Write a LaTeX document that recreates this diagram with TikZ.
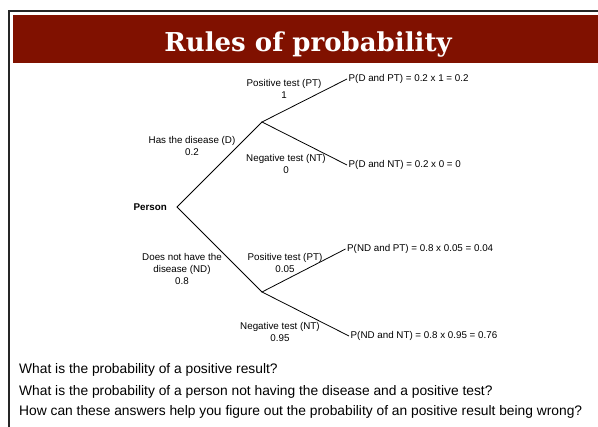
\documentclass[tikz,border=0pt]{standalone}
\usepackage{fontspec}
\setmainfont{Liberation Sans}
\newfontfamily\titlefont{DejaVu Serif}
\definecolor{barred}{RGB}{128,17,0}
\begin{document}
\begin{tikzpicture}[x=1pt,y=-1pt,
  lbl/.style={font=\fontsize{9.8}{12}\selectfont, align=center, inner sep=0pt},
  res/.style={font=\fontsize{9.8}{12}\selectfont, inner sep=1.5pt, anchor=west},
  branch/.style={line width=0.8pt},
  question/.style={font=\fontsize{13.8}{15}\selectfont, anchor=base west, inner sep=0pt}]
\useasboundingbox (0,0) rectangle (598,427);
\fill[white] (0,0) rectangle (598,427);
\fill[barred] (13,15) rectangle (598,63);
\draw[line width=2pt, black!85] (9,427) -- (9,11) -- (598,11);
\node[text=white, font=\titlefont\bfseries\fontsize{26}{30}\selectfont, anchor=base, inner sep=0pt] (title) at (308,52) {Rules of probability};

\node[font=\fontsize{9.8}{12}\selectfont\bfseries, anchor=east, inner sep=1pt] (personlbl) at (168,207) {Person};
\coordinate (person) at (177,207);
\coordinate (d) at (262,122);
\coordinate (nd) at (262,292);

\node[res] (dpt) at (347,79) {P(D and PT) = 0.2 x 1 = 0.2};
\node[res] (dnt) at (347,165) {P(D and NT) = 0.2 x 0 = 0};
\node[res] (ndpt) at (345.5,249) {P(ND and PT) = 0.8 x 0.05 = 0.04};
\node[res] (ndnt) at (349,336) {P(ND and NT) = 0.8 x 0.95 = 0.76};

\draw[branch] (d) -- (person) -- (nd);
\draw[branch] (dpt.west) -- (d) -- (dnt.west);
\draw[branch] (ndpt.west) -- (nd) -- (ndnt.west);

\node[lbl] (lpt1) at (284,89) {Positive test (PT)\\1};
\node[lbl] (ld) at (192,146.5) {Has the disease (D)\\0.2};
\node[lbl] (lnt1) at (286,164) {Negative test (NT)\\0};
\node[lbl] (lnd) at (182,269) {Does not have the\\disease (ND)\\0.8};
\node[lbl] (lpt2) at (285,263) {Positive test (PT)\\0.05};
\node[lbl] (lnt2) at (280,332.5) {Negative test (NT)\\0.95};

\node[question] (q1) at (19,374) {What is the probability of a positive result?};
\node[question] (q2) at (19,395.5) {What is the probability of a person not having the disease and a positive test?};
\node[question] (q3) at (19,416) {How can these answers help you figure out the probability of an positive result being wrong?};
\end{tikzpicture}
\end{document}
